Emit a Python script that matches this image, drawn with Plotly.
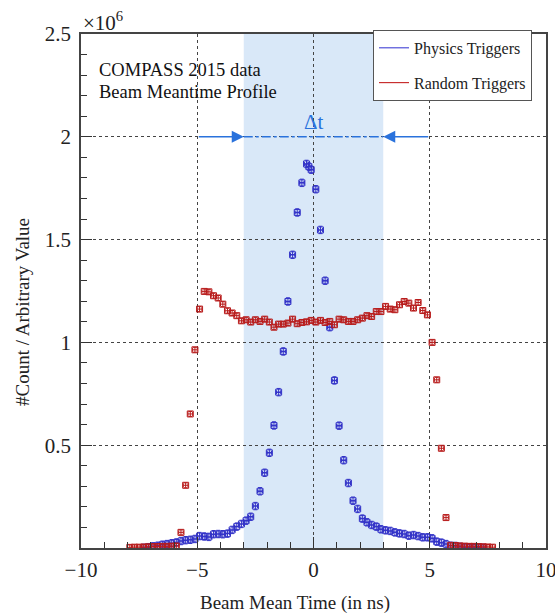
import plotly.graph_objects as go

# Physics triggers (blue), counts in units of 1e6
phys_t = [-7.3, -7.1, -6.9, -6.7, -6.5, -6.3, -6.1, -5.9, -5.7, -5.5, -5.3, -5.1,
          -4.9, -4.7, -4.5, -4.3, -4.1, -3.9, -3.7, -3.5, -3.3, -3.1, -2.9, -2.7,
          -2.5, -2.3, -2.1, -1.9, -1.7, -1.5, -1.3, -1.1, -0.9, -0.7, -0.5, -0.3,
          -0.2, -0.1, 0.1, 0.3, 0.5, 0.7, 0.9, 1.1, 1.3, 1.5, 1.7, 1.9, 2.1, 2.3,
          2.5, 2.7, 2.9, 3.1, 3.3, 3.5, 3.7, 3.9, 4.1, 4.3, 4.5, 4.7, 4.9, 5.1,
          5.3, 5.5, 5.7, 5.9, 6.1, 6.3, 6.5, 6.7, 6.9, 7.1, 7.3]
phys_n = [0.001, 0.004, 0.008, 0.011, 0.016, 0.019, 0.023, 0.027, 0.034, 0.038, 0.040, 0.044,
          0.058, 0.056, 0.054, 0.067, 0.068, 0.067, 0.070, 0.088, 0.104, 0.117, 0.133, 0.152,
          0.204, 0.276, 0.366, 0.463, 0.596, 0.758, 0.956, 1.199, 1.426, 1.632, 1.776, 1.868,
          1.855, 1.840, 1.745, 1.547, 1.300, 1.074, 0.815, 0.595, 0.427, 0.316, 0.230, 0.190,
          0.143, 0.125, 0.112, 0.104, 0.091, 0.086, 0.083, 0.076, 0.071, 0.068, 0.060, 0.063,
          0.058, 0.052, 0.052, 0.047, 0.031, 0.026, 0.019, 0.011, 0.010, 0.006, 0.004, 0.003,
          0.002, 0.001, 0.0005]

# Random triggers (red)
rand_t = [-7.9, -7.7, -7.5, -7.3, -7.1, -6.9, -6.7, -6.5, -6.3, -6.1, -5.9, -5.7,
          -5.5, -5.3, -5.1, -4.9, -4.7, -4.5, -4.3, -4.1, -3.9, -3.7, -3.5, -3.3,
          -3.1, -2.9, -2.7, -2.5, -2.3, -2.1, -1.9, -1.7, -1.5, -1.3, -1.1, -0.9,
          -0.7, -0.5, -0.3, -0.1, 0.1, 0.3, 0.5, 0.7, 0.9, 1.1, 1.3, 1.5, 1.7, 1.9,
          2.1, 2.3, 2.5, 2.7, 2.9, 3.1, 3.3, 3.5, 3.7, 3.9, 4.1, 4.3, 4.5, 4.7,
          4.9, 5.1, 5.3, 5.5, 5.7, 5.9, 6.1, 6.3, 6.5, 6.7, 6.9, 7.1, 7.3, 7.5, 7.7]
rand_n = [0.003, 0.004, 0.004, 0.005, 0.006, 0.007, 0.007, 0.008, 0.008, 0.009, 0.010, 0.076,
          0.305, 0.652, 0.964, 1.162, 1.248, 1.246, 1.227, 1.216, 1.186, 1.154, 1.143, 1.130,
          1.105, 1.110, 1.099, 1.110, 1.102, 1.113, 1.099, 1.074, 1.089, 1.089, 1.094, 1.113,
          1.091, 1.097, 1.100, 1.107, 1.099, 1.107, 1.097, 1.102, 1.086, 1.113, 1.110, 1.102,
          1.102, 1.110, 1.118, 1.130, 1.126, 1.150, 1.150, 1.175, 1.162, 1.159, 1.183, 1.199,
          1.191, 1.167, 1.194, 1.155, 1.134, 1.000, 0.818, 0.485, 0.148, 0.013, 0.012, 0.010,
          0.009, 0.008, 0.008, 0.007, 0.006, 0.005, 0.004]

x_ticks = [-10, -5, 0, 5, 10]
x_ticktext = ['\u221210', '\u22125', '0', '5', '10']
y_ticks = [0.5, 1, 1.5, 2, 2.5]
y_ticktext = ['0.5', '1', '1.5', '2', '2.5']

window = 3      # shaded +-3 ns window
arrow_from = 5
arrow_level = 2

BLUE = '#3434c8'
RED = '#b81c1c'
ARROW = '#2a72dc'
FONT = 'Liberation Serif'

data = [
    go.Scatter(x=phys_t, y=phys_n, mode='markers', showlegend=False,
               marker=dict(symbol='square-open', size=6, color=BLUE, line=dict(width=1, color=BLUE)),
               error_x=dict(type='constant', value=0.1, color=BLUE, thickness=1.5, width=2),
               error_y=dict(type='constant', value=0.018, color=BLUE, thickness=1, width=2)),
    go.Scatter(x=rand_t, y=rand_n, mode='markers', showlegend=False,
               marker=dict(symbol='square-open', size=6, color=RED, line=dict(width=1, color=RED)),
               error_x=dict(type='constant', value=0.1, color=RED, thickness=1, width=2),
               error_y=dict(type='constant', value=0.012, color=RED, thickness=1, width=2)),
    go.Scatter(x=[None], y=[None], mode='lines', name='Physics Triggers',
               line=dict(color='#5050d8', width=1.2), legendgroup='a'),
    go.Scatter(x=[None], y=[None], mode='lines', name='Random Triggers',
               line=dict(color='#c83030', width=1.2), legendgroup='b'),
]

layout = go.Layout(
    width=555, height=614,
    margin=dict(l=81, r=9, t=34, b=66, autoexpand=False),
    paper_bgcolor='white', plot_bgcolor='white',
    font=dict(family=FONT, size=21, color='#222'),
    xaxis=dict(range=[-10, 10], tickvals=x_ticks, ticktext=x_ticktext,
               ticks='inside', ticklen=11, tickwidth=1.2, tickcolor='#333',
               showline=True, linecolor='#444', linewidth=1.5, mirror=True,
               showgrid=True, gridcolor='#444', griddash='dot', gridwidth=1,
               zeroline=False, ticklabelstandoff=2, automargin=False,
               ticklabeloverflow='allow',
               minor=dict(tickmode='linear', tick0=0, dtick=1, ticks='inside',
                          ticklen=6, tickcolor='#333', showgrid=False)),
    yaxis=dict(range=[0, 2.5], tickvals=y_ticks, ticktext=y_ticktext,
               ticks='inside', ticklen=11, tickwidth=1.2, tickcolor='#333',
               showline=True, linecolor='#444', linewidth=1.5, mirror=True,
               showgrid=True, gridcolor='#444', griddash='dot', gridwidth=1,
               zeroline=False, ticklabelstandoff=4, automargin=False,
               ticklabeloverflow='allow',
               minor=dict(tickmode='linear', tick0=0, dtick=0.1, ticks='inside',
                          ticklen=6, tickcolor='#333', showgrid=False)),
    legend=dict(x=0.628, y=1.008, xanchor='left', yanchor='top',
                bgcolor='white', bordercolor='#555', borderwidth=1,
                font=dict(family=FONT, size=16, color='#222'),
                tracegroupgap=11, entrywidth=148, itemwidth=30),
    shapes=[
        dict(type='rect', xref='x', yref='y', x0=-window, x1=window, y0=0, y1=2.5,
             fillcolor='rgb(217,232,248)', line=dict(width=0), layer='below'),
        dict(type='line', xref='x', yref='y', x0=-window, x1=window,
             y0=arrow_level, y1=arrow_level,
             line=dict(color=ARROW, width=1.5, dash='dashdot')),
    ],
    annotations=[
        dict(x=-window, y=arrow_level, ax=-arrow_from, ay=arrow_level, axref='x', ayref='y',
             xref='x', yref='y', showarrow=True, arrowhead=2, arrowsize=1.6,
             arrowwidth=1.5, arrowcolor=ARROW, text=''),
        dict(x=window, y=arrow_level, ax=arrow_from, ay=arrow_level, axref='x', ayref='y',
             xref='x', yref='y', showarrow=True, arrowhead=2, arrowsize=1.6,
             arrowwidth=1.5, arrowcolor=ARROW, text=''),
        dict(x=0, y=arrow_level, xref='x', yref='y', yanchor='bottom', yshift=1,
             text='\u0394t', showarrow=False, font=dict(family=FONT, size=21, color=ARROW)),
        dict(x=0.034, y=0.93, xref='paper', yref='paper', xanchor='left', yanchor='middle',
             text='COMPASS 2015 data', showarrow=False, font=dict(family=FONT, size=18.5, color='#111')),
        dict(x=0.034, y=0.887, xref='paper', yref='paper', xanchor='left', yanchor='middle',
             text='Beam Meantime Profile', showarrow=False, font=dict(family=FONT, size=18.5, color='#111')),
        dict(x=0.0, y=1.0, xref='paper', yref='paper', xanchor='left', yanchor='bottom',
             yshift=-3, text='\u00d710<sup>6</sup>', showarrow=False,
             font=dict(family=FONT, size=21, color='#222')),
        dict(x=0.46, y=-0.107, xref='paper', yref='paper', xanchor='center', yanchor='middle',
             text='Beam Mean Time (in ns)', showarrow=False, font=dict(family=FONT, size=19, color='#222')),
        dict(x=-0.127, y=0.459, xref='paper', yref='paper', xanchor='center', yanchor='middle',
             text='#Count / Arbitrary Value', textangle=-90, showarrow=False,
             font=dict(family=FONT, size=19, color='#222')),
    ],
)

fig = go.Figure(data=data, layout=layout)
# drop the page's default body margin so the figure sits at the window origin
fig.write_html('out.html', config={'displayModeBar': False},
               post_script="document.body.style.margin='0';document.body.style.padding='0';")
